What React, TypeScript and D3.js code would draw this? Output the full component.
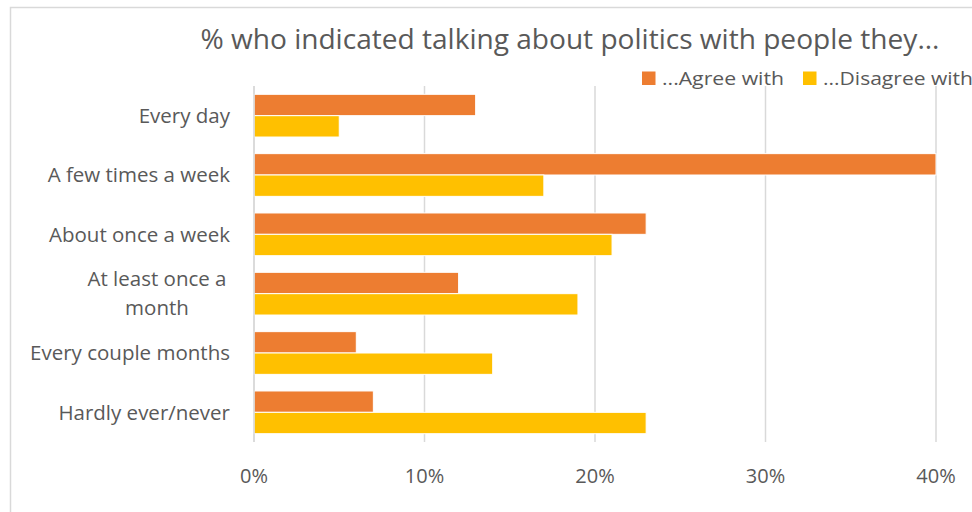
import React from "react";
import * as d3 from "d3";

const categories: string[][] = [
  ["Every day"],
  ["A few times a week"],
  ["About once a week"],
  ["At least once a", "month"],
  ["Every couple months"],
  ["Hardly ever/never"],
];
const agreeWith = [13, 40, 23, 12, 6, 7];
const disagreeWith = [5, 17, 21, 19, 14, 23];
const seriesNames = ["...Agree with", "...Disagree with"];
const seriesColors = ["#ED7D31", "#FFC000"];
const tickValues = [0, 10, 20, 30, 40];
const title = "% who indicated talking about politics with people they...";

const W = 972;
const H = 512;
const FONT = "'Open Sans', 'Noto Sans', sans-serif";
const TEXT = "#595959";

export default function App() {
  const x = d3.scaleLinear().domain([0, 40]).range([254, 936]);
  const keys = categories.map((c) => c.join(" "));
  const y = d3.scaleBand<string>().domain(keys).range([86, 442]).paddingInner(0).paddingOuter(0);
  const bw = y.bandwidth();
  const barH = bw * 0.36;
  const off = (bw - 2 * barH) / 2;
  const series = [agreeWith, disagreeWith];

  return (
    <svg
      width={W}
      height={H}
      style={{ position: "absolute", left: 0, top: 0, display: "block" }}
    >
      <rect x={0} y={0} width={W} height={H} fill="#fff" />
      <rect x={10.5} y={7.5} width={W + 20} height={H + 20} fill="#fff" stroke="#d9d9d9" strokeWidth={1.5} />
      <text
        x={570}
        y={49}
        textAnchor="middle"
        fontFamily={FONT}
        fontSize={26.5}
        fill={TEXT}
        textLength={739}
        lengthAdjust="spacingAndGlyphs"
      >
        {title}
      </text>
      {/* legend */}
      {seriesNames.map((name, i) => {
        const lx = i === 0 ? 642 : 803;
        return (
          <g key={name}>
            <rect x={lx} y={71.5} width={13.5} height={13.5} fill={seriesColors[i]} />
            <text
              x={lx + 20}
              y={84.5}
              fontFamily={FONT}
              fontSize={19}
              fill={TEXT}
              textLength={i === 0 ? 122 : 150}
              lengthAdjust="spacingAndGlyphs"
            >
              {name}
            </text>
          </g>
        );
      })}
      {/* gridlines */}
      {tickValues.map((t) => (
        <line
          key={t}
          x1={x(t)}
          x2={x(t)}
          y1={86}
          y2={442}
          stroke="#d9d9d9"
          strokeWidth={1.5}
        />
      ))}
      {/* bars */}
      {series.map((vals, si) =>
        vals.map((v, ci) => (
          <rect
            key={`${si}-${ci}`}
            x={x(0)}
            y={(y(keys[ci]) as number) + off + si * barH}
            width={x(v) - x(0)}
            height={barH}
            fill={seriesColors[si]}
            stroke="#fff"
            strokeWidth={1}
          />
        ))
      )}
      {/* axis line */}
      <line x1={x(0)} x2={x(0)} y1={86} y2={442} stroke="#d9d9d9" strokeWidth={1.5} />
      {/* category labels */}
      {categories.map((lines, ci) => {
        const cy = (y(keys[ci]) as number) + bw / 2;
        const lh = 29;
        const start = cy - ((lines.length - 1) * lh) / 2;
        return (
          <text
            key={keys[ci]}
            textAnchor={lines.length > 1 ? "middle" : "end"}
            fontFamily={FONT}
            fontSize={20.5}
            fill={TEXT}
          >
            {lines.map((ln, li) => (
              <tspan
                key={li}
                x={lines.length > 1 ? 157 : 230}
                y={start + li * lh}
                dy="0.35em"
              >
                {ln}
              </tspan>
            ))}
          </text>
        );
      })}
      {/* tick labels */}
      {tickValues.map((t) => (
        <text
          key={t}
          x={x(t)}
          y={476}
          dy="0.35em"
          textAnchor="middle"
          fontFamily={FONT}
          fontSize={20}
          fill={TEXT}
        >
          {`${t}%`}
        </text>
      ))}
    </svg>
  );
}
